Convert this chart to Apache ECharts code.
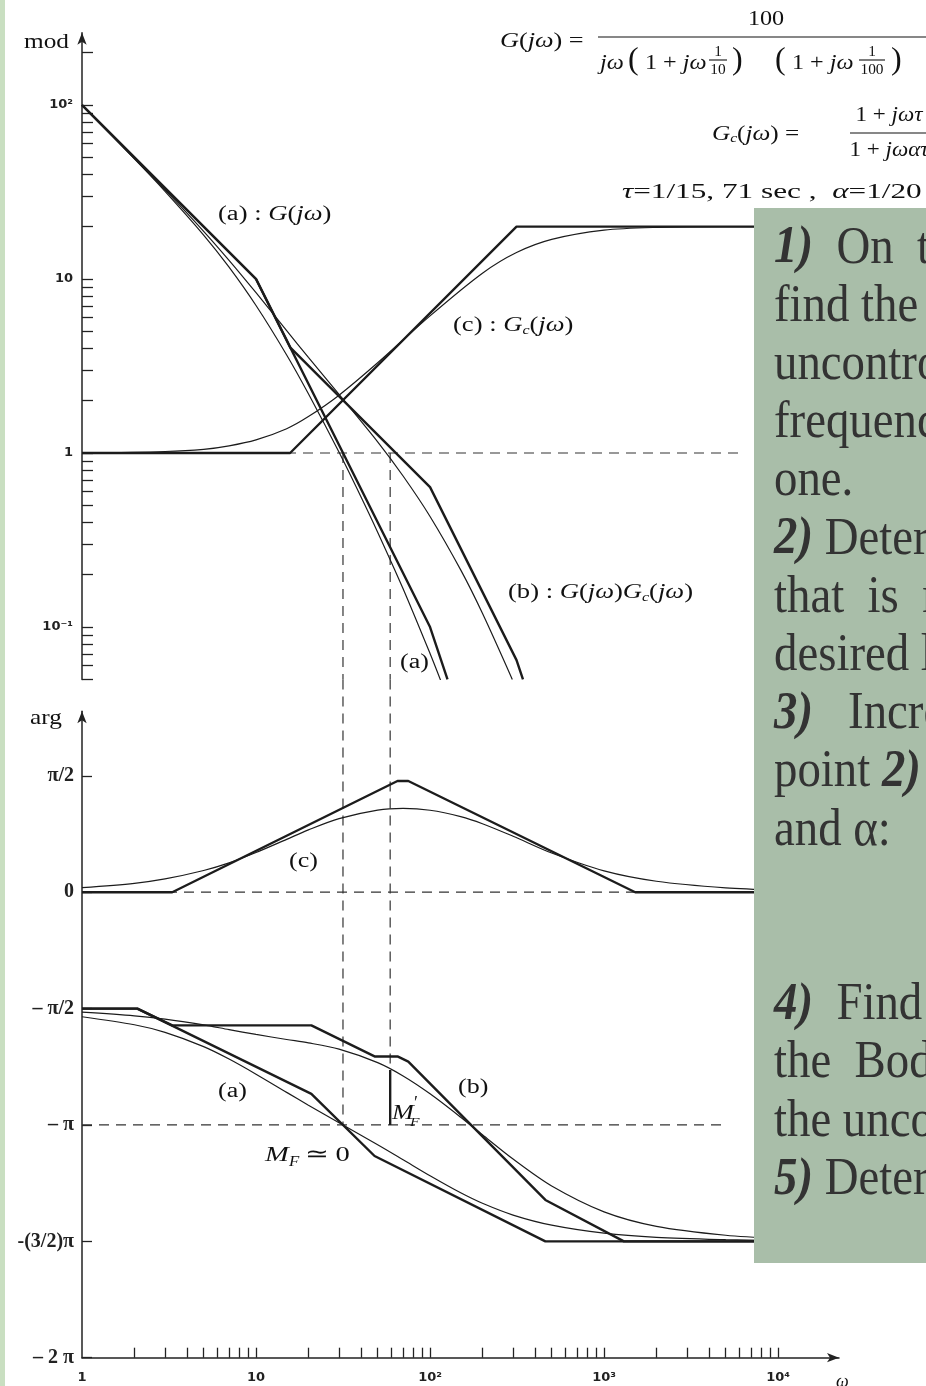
<!DOCTYPE html>
<html>
<head>
<meta charset="utf-8">
<title>Bode - rete anticipatrice</title>
<script src="https://cdn.jsdelivr.net/npm/echarts@6/dist/echarts.min.js"></script>
<style>
    html, body { margin: 0; padding: 0; background: #fff; }
    #chart { width: 926px; height: 1386px; }
</style>
</head>
<body>
<div id="chart"></div>
<script>
// ---- modulo ----
// (a) G(jw): curva esatta e asintoti
var gModW   = [1, 2, 3, 5, 7, 10, 15, 20, 30, 40, 50, 70, 100, 115];
var gModVal = [99.5, 49, 31.9, 17.9, 11.7, 7.04, 3.66, 2.19, 1.01, 0.563, 0.351, 0.166, 0.0704, 0.0494];
var gModAsW   = [1, 10, 100, 126];
var gModAsVal = [100, 10, 0.1, 0.05];
// (c) Gc(jw)
var gcModW   = [1, 3, 5, 7, 10, 15, 20, 30, 50, 100, 200, 314, 500, 1000, 2000, 5000, 10000];
var gcModVal = [1.0, 1.02, 1.05, 1.1, 1.19, 1.38, 1.62, 2.15, 3.3, 6.14, 10.8, 14.2, 16.9, 19.1, 19.8, 20, 20];
var gcModAsW   = [1, 15.7, 314, 10000];
var gcModAsVal = [1, 1, 20, 20];
// (b) G(jw)Gc(jw)
var olModW   = [1, 2, 3, 5, 7, 10, 15, 20, 30, 50, 70, 100, 150, 200, 297];
var olModVal = [99.7, 49.4, 32.5, 18.8, 12.8, 8.34, 5.05, 3.54, 2.17, 1.16, 0.738, 0.432, 0.213, 0.12, 0.05];
var olModAsW   = [1, 10, 15.7, 100, 314, 342];
var olModAsVal = [100, 10, 4.05, 0.637, 0.0645, 0.05];

// ---- fase (gradi) ----
var argW = [1, 2, 3, 5, 7, 10, 15, 20, 30, 50, 70, 100, 150, 200, 300, 500, 1000, 2000, 5000, 10000];
var gcArgVal = [3.5, 6.9, 10.3, 16.8, 22.7, 30.7, 40.9, 48.2, 56.9, 63.5, 64.8, 63.4, 58.5, 53, 43.3, 30.3, 16.5, 8.5, 3.4, 1.7];
var gArgVal  = [-96.3, -102.5, -108.4, -119.4, -129, -140.7, -154.8, -164.7, -178.3, -195.3, -206.9, -219.3, -232.5, -240.6, -249.7, -257.5, -263.7, -266.9, -268.7, -269.4];
var olArgVal = [-92.8, -95.6, -98.1, -102.6, -106.3, -110, -113.9, -116.5, -121.4, -131.8, -142.1, -155.9, -174, -187.6, -206.4, -227.2, -247.2, -258.4, -265.3, -267.7];
var gcArgAsW   = [1, 3.3, 65, 75, 1510, 10000];
var gcArgAsVal = [0, 0, 86, 86, 0, 0];
var gArgAsW    = [1, 2.08, 20.8, 48, 460, 10000];
var gArgAsVal  = [-90, -90, -156, -204, -270, -270];
var olArgAsW   = [1, 2.08, 3.3, 20.8, 48, 65, 75, 460, 1300, 10000];
var olArgAsVal = [-90, -90, -103, -103, -127, -127, -131, -238, -270, -270];

// pulsazioni di attraversamento e margine di fase
var wCross = 31.6, wCrossComp = 59, argAtCrossComp = -137.5;
var refEnd = 6100;

// assi
var decades = [1, 10, 100, 1000];
var mult = [2, 3, 4, 5, 6, 7, 8, 9];
var xLabelVals = [1, 10, 100, 1000, 10000];
var modLabelVals = [0.1, 1, 10, 100];
var argLabelVals = [90, 0, -90, -180, -270, -360];
var argLabels = {'90': 'π/2', '0': '0', '-90': '– π/2', '-180': '– π', '-270': '-(3/2)π', '-360': '– 2 π'};

var xTickVals = [];
decades.forEach(function (d) { mult.forEach(function (m) { xTickVals.push(m * d); }); xTickVals.push(d * 10); });
var modTickVals = [0.05, 0.06, 0.07, 0.08, 0.09];
[0.1, 1, 10].forEach(function (d) { modTickVals.push(d); mult.forEach(function (m) { modTickVals.push(m * d); }); });
modTickVals.push(100, 200);

function pts(w, v) { return w.map(function (x, i) { return [x, v[i]]; }); }

var ink = '#1c1c1c';
function curve(data, thick, grid, extra) {
    var s = {
        type: 'line', xAxisIndex: grid, yAxisIndex: grid, data: data,
        symbol: 'none', silent: true,
        lineStyle: {color: ink, width: thick ? 2.4 : 1.2},
        z: thick ? 4 : 3
    };
    if (!thick) { s.smooth = 0.3; }
    return Object.assign(s, extra || {});
}
function dashed(data, grid, extra) {
    return Object.assign({
        type: 'line', xAxisIndex: grid, yAxisIndex: grid, data: data, symbol: 'none', silent: true,
        lineStyle: {color: '#333', width: 1.2, type: [10, 7]}, z: 2
    }, extra || {});
}

var sup = {'-1': '10⁻¹', '0': '1', '1': '10', '2': '10²', '3': '10³', '4': '10⁴'};
var axisInk = {color: '#222', width: 1.5};
var lblFont = {fontFamily: 'DejaVu Sans', fontWeight: 'bold', fontSize: 13, color: '#222'};

var serif = 'Liberation Serif';
// testo della figura (scansione leggermente allargata in orizzontale)
function txt(x, y, text, size, sx, extra) {
    return {
        type: 'text', x: x, y: y, scaleX: sx || 1, z: 60, silent: true,
        style: Object.assign({
            text: text, fontFamily: serif, fontSize: size, fill: '#111',
            align: 'left', verticalAlign: 'middle',
            rich: {
                i: {fontFamily: serif, fontSize: size, fontStyle: 'italic', fill: '#111'},
                s: {fontFamily: serif, fontSize: Math.round(size * 0.6), fontStyle: 'italic', fill: '#111', padding: [9, 0, 0, 0]}
            }
        }, extra || {})
    };
}
function hline(x1, x2, y) {
    return {type: 'line', z: 60, silent: true, shape: {x1: x1, y1: y, x2: x2, y2: y}, style: {stroke: '#111', lineWidth: 1.1}};
}

// testo del riquadro verde
var boxLines = [
    '{b|1)}  On  the', 'find the', 'uncontrolled', 'frequency', 'one.',
    '{b|2)} Determine', 'that  is  re', 'desired l', '{b|3)}   Increase', 'point {b|2)}', 'and α:',
    '', '', '{b|4)}  Find  the', 'the  Bode', 'the uncont', '{b|5)} Determine'
];
var boxFont = 52;
var boxText = boxLines.map(function (s, i) {
    return {
        type: 'text', x: 774, y: 249 + i * 58.2, scaleX: 0.9, z: 95, silent: true,
        style: {
            text: s, fontFamily: serif, fontSize: boxFont, fill: '#333', align: 'left', verticalAlign: 'middle',
            rich: {b: {fontFamily: serif, fontSize: boxFont, fontWeight: 'bold', fontStyle: 'italic', fill: '#333'}}
        }
    };
});

var chart = echarts.init(document.getElementById('chart'), null, {renderer: 'canvas'});
var option = {
    animation: false,
    backgroundColor: '#fff',
    grid: [
        {left: 82, right: 87, top: 32.8, height: 646.6},
        {left: 82, right: 87, top: 711.2, height: 646.5}
    ],
    xAxis: [
        {gridIndex: 0, type: 'log', min: 1, max: 22387, show: false},
        {
            gridIndex: 1, type: 'log', min: 1, max: 22387,
            axisLine: {onZero: false, symbol: ['none', 'arrow'], symbolSize: [7, 12], lineStyle: axisInk},
            axisTick: {inside: true, length: 10, customValues: xTickVals, lineStyle: {color: '#222', width: 1.3}},
            axisLabel: Object.assign({
                customValues: xLabelVals, margin: 13,
                formatter: function (v) { return sup[Math.round(Math.log10(v))]; }
            }, lblFont),
            splitLine: {show: false}
        }
    ],
    yAxis: [
        {
            gridIndex: 0, type: 'log', min: 0.05, max: 260,
            axisLine: {show: true, onZero: false, symbol: ['none', 'arrow'], symbolSize: [7, 12], lineStyle: axisInk},
            axisTick: {show: true, inside: true, length: 11, customValues: modTickVals, lineStyle: {color: '#222', width: 1.3}},
            axisLabel: Object.assign({
                customValues: modLabelVals, margin: 9,
                formatter: function (v) { return sup[Math.round(Math.log10(v))]; }
            }, lblFont),
            splitLine: {show: false}
        },
        {
            gridIndex: 1, type: 'value', min: -360, max: 140,
            axisLine: {show: true, onZero: false, symbol: ['none', 'arrow'], symbolSize: [7, 12], lineStyle: axisInk},
            axisTick: {show: true, inside: true, length: 10, customValues: argLabelVals, lineStyle: {color: '#222', width: 1.3}},
            axisLabel: {
                customValues: argLabelVals, margin: 8,
                formatter: function (v) { return argLabels[String(Math.round(v))]; },
                fontFamily: serif, fontSize: 20, fontWeight: 'bold', color: '#222'
            },
            splitLine: {show: false}
        }
    ],
    series: [
        // riferimenti tratteggiati
        dashed([[1, 1], [refEnd, 1]], 0),
        dashed([[wCross, 1], [wCross, 0.05]], 0),
        dashed([[wCrossComp, 1], [wCrossComp, 0.05]], 0),
        dashed([[1, 0], [refEnd, 0]], 1),
        dashed([[1, -180], [5000, -180]], 1),
        dashed([[wCross, 164.6], [wCross, -180]], 1, {clip: false}),
        dashed([[wCrossComp, 164.6], [wCrossComp, argAtCrossComp]], 1, {clip: false}),
        curve([[wCrossComp, argAtCrossComp], [wCrossComp, -180]], true, 1),
        // modulo
        curve(pts(gModAsW, gModAsVal), true, 0),
        curve(pts(gModW, gModVal), false, 0),
        curve(pts(gcModAsW, gcModAsVal), true, 0),
        curve(pts(gcModW, gcModVal), false, 0),
        curve(pts(olModAsW, olModAsVal), true, 0),
        curve(pts(olModW, olModVal), false, 0),
        // fase
        curve(pts(gcArgAsW, gcArgAsVal), true, 1),
        curve(pts(argW, gcArgVal), false, 1),
        curve(pts(gArgAsW, gArgAsVal), true, 1),
        curve(pts(argW, gArgVal), false, 1),
        curve(pts(olArgAsW, olArgAsVal), true, 1),
        curve(pts(argW, olArgVal), false, 1)
    ],
    graphic: [
        {type: 'rect', z: 1, silent: true, shape: {x: 0, y: 0, width: 5, height: 1386}, style: {fill: '#c9dfc1'}},
        txt(24, 42, 'mod', 22, 1.15),
        txt(30, 718, 'arg', 22, 1.15),
        txt(836, 1382, '{i|ω}', 18),
        // formule
        txt(500, 41, '{i|G}({i|jω}) =', 21, 1.25),
        txt(766, 19, '100', 21, 1.15, {align: 'center'}),
        hline(598, 926, 37),
        txt(600, 63, '{i|jω}', 21, 1.15),
        txt(628, 61, '(', 32),
        txt(645, 63, '1 + {i|jω}', 21, 1.15),
        txt(718, 52, '1', 14, 1.1, {align: 'center'}),
        hline(709, 727, 60),
        txt(718, 70, '10', 14, 1.1, {align: 'center'}),
        txt(732, 61, ')', 32),
        txt(775, 61, '(', 32),
        txt(792, 63, '1 + {i|jω}', 21, 1.15),
        txt(872, 52, '1', 14, 1.1, {align: 'center'}),
        hline(859, 885, 60),
        txt(872, 70, '100', 14, 1.1, {align: 'center'}),
        txt(891, 61, ')', 32),
        txt(712, 134, '{i|G}{s|c}({i|jω}) =', 21, 1.2),
        txt(889, 116, '1 + {i|jωτ}', 20, 1.15, {align: 'center'}),
        hline(850, 926, 133),
        txt(889, 151, '1 + {i|jωατ}', 20, 1.15, {align: 'center'}),
        txt(622, 192, '{i|τ}=1/15, 71 sec ,  {i|α}=1/20', 22, 1.42),
        // etichette curve
        txt(218, 215, '(a) : {i|G}({i|jω})', 20, 1.33),
        txt(453, 326, '(c) : {i|G}{s|c}({i|jω})', 20, 1.33),
        txt(508, 593, '(b) : {i|G}({i|jω}){i|G}{s|c}({i|jω})', 20, 1.33),
        txt(400, 663, '(a)', 20, 1.3),
        txt(289, 862, '(c)', 20, 1.3),
        txt(218, 1092, '(a)', 20, 1.3),
        txt(458, 1088, '(b)', 20, 1.3),
        txt(392, 1113, '{i|M}', 21, 1.25),
        txt(414, 1104, '′', 18),
        txt(410, 1123, '{i|F}', 13, 1.2),
        txt(265, 1155, '{i|M}', 22, 1.3),
        txt(289, 1162, '{i|F}', 14, 1.2),
        txt(305, 1155, '≃ 0', 22, 1.3),
        // riquadro
        {type: 'rect', z: 90, silent: true, shape: {x: 754, y: 208, width: 180, height: 1055}, style: {fill: '#a9bea9'}}
    ].concat(boxText)
};
chart.setOption(option);
</script>
</body>
</html>
